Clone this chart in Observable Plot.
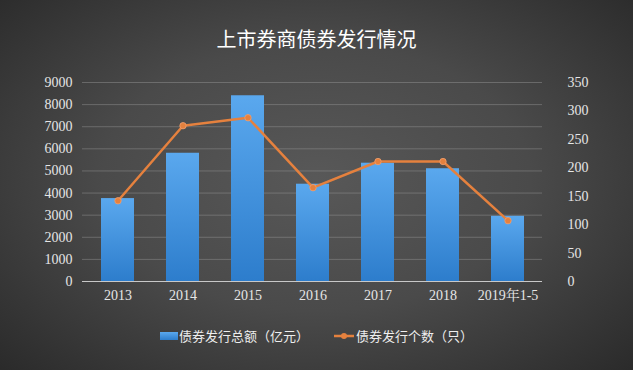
<!DOCTYPE html>
<html><head><meta charset="utf-8">
<script src="https://cdn.jsdelivr.net/npm/d3@7"></script>
<script src="https://cdn.jsdelivr.net/npm/@observablehq/plot@0.6"></script>
<style>
html,body{margin:0;padding:0;background:#2a2a2a;}
#wrap{position:relative;width:633px;height:370px;overflow:hidden;
  background:radial-gradient(ellipse 75% 80% at 50% 48%, #585858 0%, #4a4a4a 45%, #333 80%, #262626 100%);
  font-family:"Noto Sans CJK SC","Noto Sans",sans-serif;}
#title{position:absolute;left:0;width:633px;top:27px;text-align:center;color:#fff;font-size:20px;line-height:24px;letter-spacing:0px;}
#chart{position:absolute;left:0;top:0;}
#chart svg text{font-family:"Liberation Serif","Noto Serif CJK SC","Noto Sans CJK SC",serif;}
.lg{position:absolute;top:327px;color:#eee;font-size:13px;line-height:18px;white-space:nowrap;}
</style></head>
<body><div id="wrap">
<div id="title">上市券商债券发行情况</div>
<div id="chart"></div>
<div id="legend"></div>
</div>
<script>
const years = ["2013","2014","2015","2016","2017","2018","2019年1-5"];
const amounts = [3750, 5800, 8400, 4400, 5350, 5100, 2950];
const counts = [142, 274, 288, 165, 211, 211, 107];
const leftTicks = [0,1000,2000,3000,4000,5000,6000,7000,8000,9000];
const rightTicks = [0,50,100,150,200,250,300,350];
const seriesNames = ["债券发行总额（亿元）","债券发行个数（只）"];
const leftMax = 9000, rightMax = 350;
const k = leftMax / rightMax;

const data = years.map((y,i)=>({year:y, amount:amounts[i], count:counts[i], countScaled:counts[i]*k}));
const tickFont = {fontSize:14, fill:"#e6e6e6"};

const plot = Plot.plot({
  width:633, height:310,
  marginLeft:82, marginRight:91, marginTop:82, marginBottom:29,
  style:{background:"transparent", color:"#e6e6e6", overflow:"visible", fontFamily:"'Liberation Serif',serif", fontSize:"14px"},
  x:{domain:years, paddingInner:0.5, paddingOuter:0.25, label:null},
  y:{domain:[0,leftMax], label:null},
  marks:[
    Plot.gridY(leftTicks.slice(1), {stroke:"#9a9a9a", strokeOpacity:0.45, strokeWidth:1}),
    Plot.barY(data, {x:"year", y:"amount", fill:"url(#barGrad)"}),
    Plot.ruleY([0], {stroke:"#c8c8c8", strokeWidth:1}),
    Plot.lineY(data, {x:"year", y:"countScaled", stroke:"#e5813e", strokeWidth:2.5}),
    Plot.dot(data, {x:"year", y:"countScaled", r:3.2, fill:"#e5813e", stroke:"#f0a070", strokeWidth:0.8}),
    Plot.axisY(leftTicks, {anchor:"left", tickSize:0, tickPadding:10, label:null, tickFormat:d=>String(d), ...tickFont}),
    Plot.axisY(rightTicks.map(v=>v*k), {anchor:"right", tickSize:0, tickPadding:25, label:null, tickFormat:d=>String(Math.round(d/k)), textAnchor:"start", ...tickFont}),
    Plot.axisX({tickSize:0, tickPadding:9, label:null, ...tickFont})
  ]
});
const ns = "http://www.w3.org/2000/svg";
const defs = document.createElementNS(ns,"defs");
defs.innerHTML = '<linearGradient id="barGrad" x1="0" y1="0" x2="0" y2="1" gradientUnits="objectBoundingBox"><stop offset="0" stop-color="#5aa8ee"/><stop offset="1" stop-color="#2d7dcc"/></linearGradient>';
plot.insertBefore(defs, plot.firstChild);
document.getElementById("chart").appendChild(plot);

const lg = document.getElementById("legend");
lg.innerHTML =
  '<div style="position:absolute;left:160px;top:332px;width:18px;height:8px;background:linear-gradient(#5aa8ee,#2d7dcc);"></div>' +
  '<div class="lg" style="left:179px;">'+seriesNames[0]+'</div>' +
  '<svg style="position:absolute;left:333px;top:330px;" width="22" height="12"><line x1="1" y1="6" x2="21" y2="6" stroke="#e5813e" stroke-width="2.5"/><circle cx="11" cy="6" r="3" fill="#e5813e"/></svg>' +
  '<div class="lg" style="left:356px;">'+seriesNames[1]+'</div>';
</script>
</body></html>
